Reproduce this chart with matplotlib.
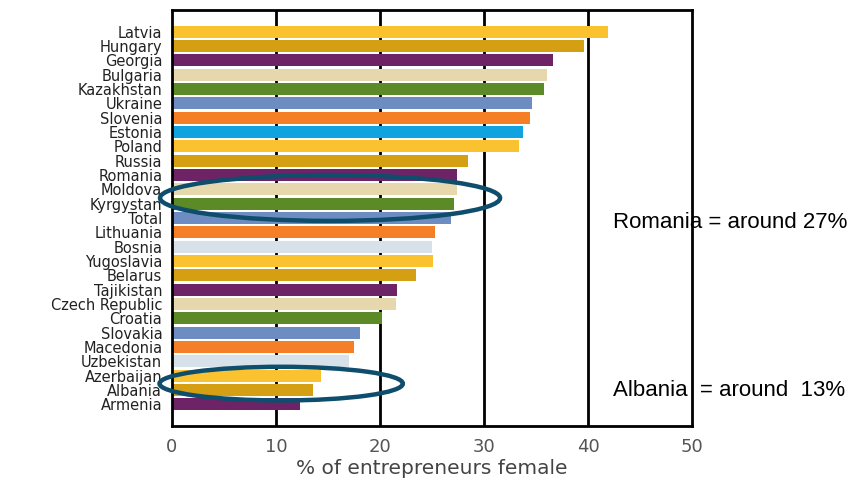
import matplotlib
matplotlib.use("Agg")
import matplotlib.pyplot as plt
from matplotlib.patches import Ellipse

countries = ["Latvia", "Hungary", "Georgia", "Bulgaria", "Kazakhstan", "Ukraine",
             "Slovenia", "Estonia", "Poland", "Russia", "Romania", "Moldova",
             "Kyrgystan", "Total", "Lithuania", "Bosnia", "Yugoslavia", "Belarus",
             "Tajikistan", "Czech Republic", "Croatia", "Slovakia", "Macedonia",
             "Uzbekistan", "Azerbaijan", "Albania", "Armenia"]
female_pct = [41.9, 39.6, 36.6, 36.1, 35.8, 34.6, 34.4, 33.8, 33.4, 28.5, 27.4,
              27.4, 27.1, 26.8, 25.3, 25.0, 25.1, 23.5, 21.6, 21.5, 20.2, 18.1,
              17.5, 17.0, 14.3, 13.6, 12.3]
palette = ["#F9C22E", "#D49F12", "#6E2367", "#E6D8AC", "#5B8A27", "#6D8CC2",
           "#F47F26", "#10A3DF", "#F9C22E", "#D49F12", "#6E2367", "#E6D8AC",
           "#5B8A27", "#6D8CC2", "#F47F26", "#D6E1EA", "#F9C22E", "#D49F12",
           "#6E2367", "#E6D8AC", "#5B8A27", "#6D8CC2", "#F47F26", "#D6E1EA",
           "#F9C22E", "#D49F12", "#6E2367"]
x_ticks = [0, 10, 20, 30, 40, 50]

fig = plt.figure(figsize=(8.66, 4.84), dpi=100)
ax = fig.add_axes([0.1986, 0.12, 0.6004, 0.859])
ax.set_facecolor("none")

ypos = list(range(len(countries)))
ax.barh(ypos, female_pct, height=0.84, color=palette, zorder=2)

# vertical grid lines sit behind the bars
for t in x_ticks[1:-1]:
    ax.axvline(t, color="black", lw=2, zorder=1)

ax.set_xlim(0, 50)
ax.set_ylim(len(countries) - 1 + 1.5, -1.5)
ax.set_xticks(x_ticks)
ax.set_yticks(ypos)
ax.set_yticklabels(countries, fontsize=10.5, color="#222222")
ax.tick_params(axis="y", length=0, pad=7)
ax.tick_params(axis="x", length=0, pad=9, labelsize=13, labelcolor="#555555")
for side in ["left", "bottom", "top", "right"]:
    ax.spines[side].set_linewidth(2)
    ax.spines[side].set_color("black")
ax.set_xlabel("% of entrepreneurs female", fontsize=14.5, color="#444444", labelpad=2)

# highlight rings around the two countries of interest
ring = "#0E4D6B"
ax.add_patch(Ellipse((15.2, 11.6), 32.7, 3.2, fill=False, ec=ring, lw=3.2,
                     zorder=4, clip_on=False))
ax.add_patch(Ellipse((10.5, 24.55), 23.4, 2.35, fill=False, ec=ring, lw=3.2,
                     zorder=4, clip_on=False))

fig.text(0.708, 0.541, "Romania = around 27%", fontsize=16, va="center",
         family="Liberation Sans", zorder=-1)
fig.text(0.708, 0.194, "Albania  = around  13%", fontsize=16, va="center",
         family="Liberation Sans", zorder=-1)

fig.savefig("out.png", dpi=100)
